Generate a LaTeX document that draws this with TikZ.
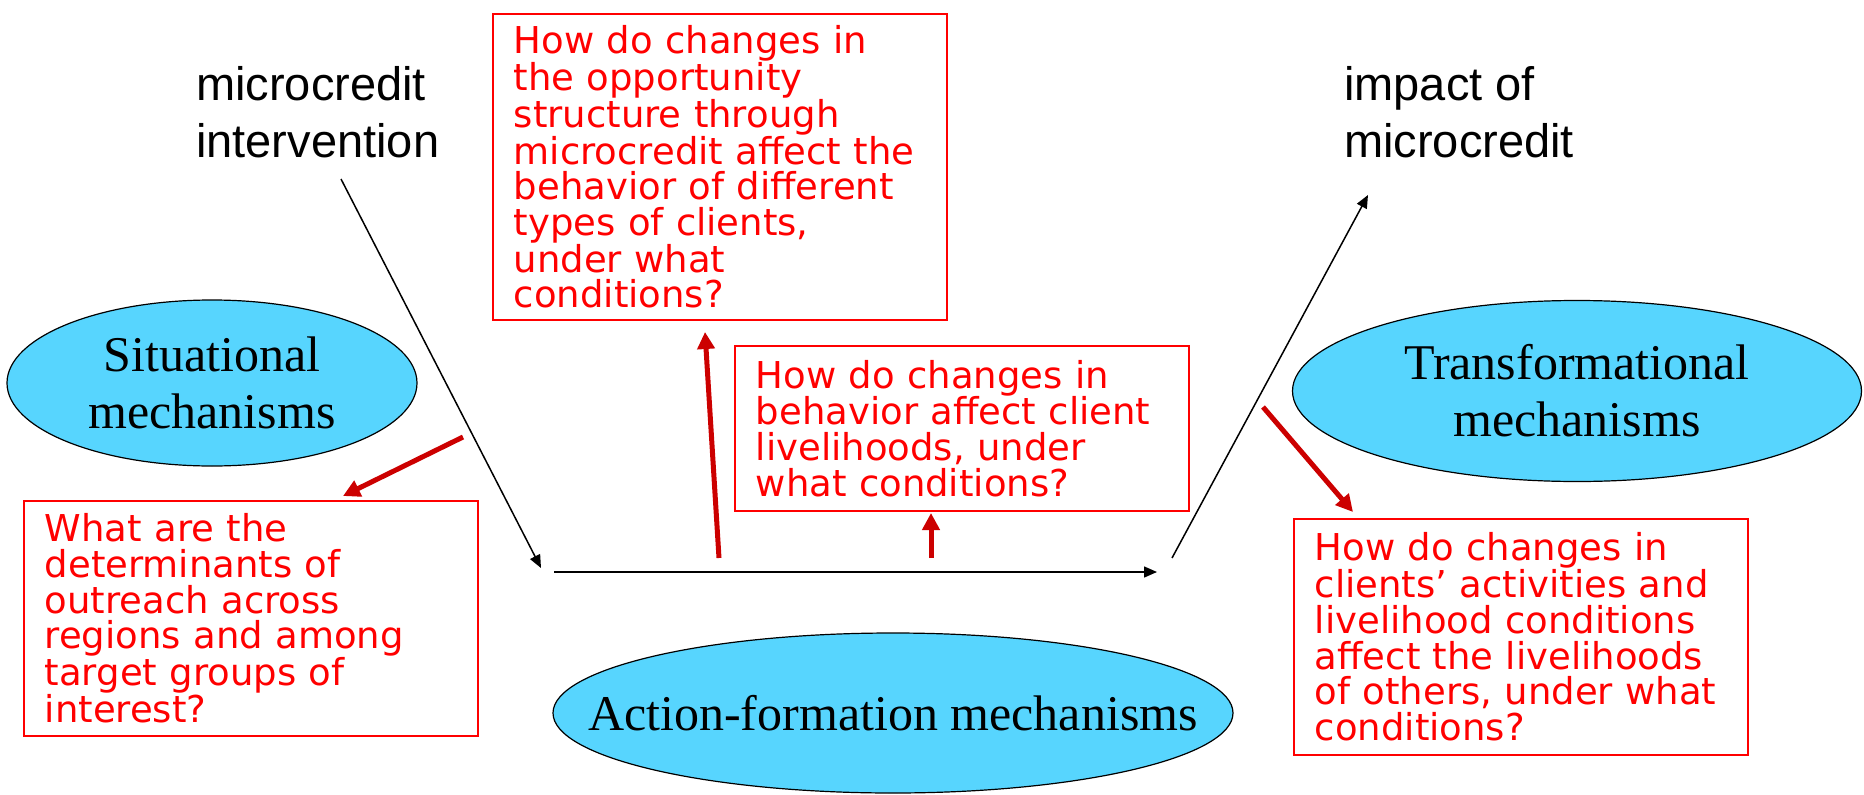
\documentclass[tikz,border=0pt]{standalone}
\usepackage{fontspec}
\setmainfont{Liberation Serif}
\newfontfamily\qfont{DejaVu Sans}
\newfontfamily\lfont{Liberation Sans}
\usetikzlibrary{shapes.geometric,arrows.meta}

\definecolor{mechfill}{RGB}{87,213,254}
\definecolor{qred}{RGB}{255,0,0}
\definecolor{linkred}{RGB}{204,0,0}

\tikzset{
  mech/.style={ellipse, draw=black, line width=1.2pt, fill=mechfill, inner sep=0pt},
  mechtext/.style={align=center, inner sep=0pt, font=\fontsize{50}{57}\selectfont},
  question/.style={rectangle, draw=qred, line width=1.6pt, anchor=north west,
    text width=412pt, inner xsep=21pt, inner ysep=0pt, align=left, text=qred,
    font=\qfont\fontsize{37}{35.6}\selectfont},
  endpoint/.style={anchor=north west, inner sep=0pt, align=left,
    font=\lfont\fontsize{47}{57}\selectfont},
  flow/.style={draw=black, line width=1.5pt, -{Triangle[length=13pt,width=11pt]}},
  link/.style={draw=linkred, line width=5pt, -{Triangle[length=17pt,width=17pt]}}
}

\begin{document}
\begin{tikzpicture}[x=1pt,y=-1pt]
\useasboundingbox (0,0) rectangle (1864,795);

% start and end of the causal chain
\node[endpoint] (intervention) at (196,66) {microcredit\\intervention};
\node[endpoint] (impact) at (1344,66) {impact of\\microcredit};

% the three kinds of mechanisms (ellipse size fixed, caption as a centred label)
\node[mech, minimum width=410pt, minimum height=166pt,
  label={[mechtext]center:Situational\\mechanisms}] (situational) at (212,383) {};
\node[mech, minimum width=569pt, minimum height=181pt,
  label={[mechtext]center:Transformational\\mechanisms}] (transformational) at (1577,391) {};
\node[mech, minimum width=680pt, minimum height=160pt,
  label={[mechtext]center:Action-formation mechanisms}] (action) at (893,713) {};

% research questions
\node[question, minimum height=306pt] (qopp) at (492,13)
  {How do changes in\\the opportunity\\structure through\\microcredit affect the\\behavior of different\\types of clients,\\under what\\conditions?};
\node[question, minimum height=235pt] (qout) at (23,500)
  {What are the\\determinants of\\outreach across\\regions and among\\target groups of\\interest?};
\node[question, minimum height=165pt] (qbeh) at (734,345)
  {How do changes in\\behavior affect client\\livelihoods, under\\what conditions?};
\node[question, minimum height=236pt] (qoth) at (1293,518)
  {How do changes in\\clients’ activities and\\livelihood conditions\\affect the livelihoods\\of others, under what\\conditions?};

% end points of the chain arrows
\coordinate (downS) at (341,179);
\coordinate (downE) at (541,568);
\coordinate (midS)  at (554,572);
\coordinate (midE)  at (1157,572);
\coordinate (upS)   at (1172,558);
\coordinate (upE)   at (1368,195);

\draw[flow] (downS) -- (downE);
\draw[flow] (midS) -- (midE);
\draw[flow] (upS) -- (upE);

% end points of the question arrows
\coordinate (l1S) at (463,437);
\coordinate (l1E) at (343,496);
\coordinate (l2S) at (719,558);
\coordinate (l2E) at (705,332);
\coordinate (l3S) at (931,558);
\coordinate (l3E) at (931,513);
\coordinate (l4S) at (1263,407);
\coordinate (l4E) at (1353,512);

\draw[link] (l1S) -- (l1E);
\draw[link] (l2S) -- (l2E);
\draw[link] (l3S) -- (l3E);
\draw[link] (l4S) -- (l4E);
\end{tikzpicture}
\end{document}
